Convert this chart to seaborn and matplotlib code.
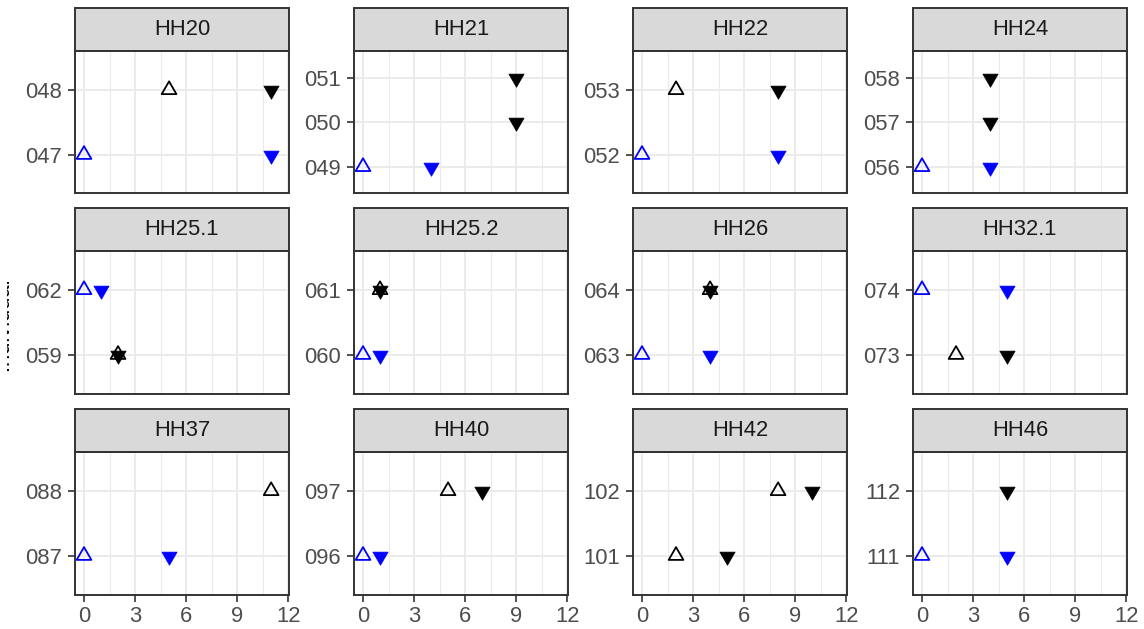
import numpy as np
import pandas as pd
import matplotlib
matplotlib.use("Agg")
import matplotlib.pyplot as plt
import seaborn as sns
from matplotlib.patches import Rectangle
from matplotlib.path import Path
from matplotlib.transforms import Bbox, TransformedBbox

# ---------------- data ----------------
households = ["HH20", "HH21", "HH22", "HH24", "HH25.1", "HH25.2",
              "HH26", "HH32.1", "HH37", "HH40", "HH42", "HH46"]

pt_household = (["HH20"] * 4 + ["HH21"] * 4 + ["HH22"] * 4 + ["HH24"] * 4 +
                ["HH25.1"] * 4 + ["HH25.2"] * 4 + ["HH26"] * 4 + ["HH32.1"] * 4 +
                ["HH37"] * 3 + ["HH40"] * 4 + ["HH42"] * 4 + ["HH46"] * 3)
pt_individual = ["048", "048", "047", "047",
                 "051", "050", "049", "049",
                 "053", "053", "052", "052",
                 "058", "057", "056", "056",
                 "062", "062", "059", "059",
                 "061", "061", "060", "060",
                 "064", "064", "063", "063",
                 "074", "074", "073", "073",
                 "088", "087", "087",
                 "097", "097", "096", "096",
                 "102", "102", "101", "101",
                 "112", "111", "111"]
pt_time = [5, 11, 0, 11,
           9, 9, 0, 4,
           2, 8, 0, 8,
           4, 4, 0, 4,
           0, 1, 2, 2,
           1, 1, 0, 1,
           4, 4, 0, 4,
           0, 5, 2, 5,
           11, 0, 5,
           5, 7, 0, 1,
           8, 10, 2, 5,
           5, 0, 5]
pt_event = ["start", "end", "start", "end",
            "end", "end", "start", "end",
            "start", "end", "start", "end",
            "end", "end", "start", "end",
            "start", "end", "start", "end",
            "start", "end", "start", "end",
            "start", "end", "start", "end",
            "start", "end", "start", "end",
            "start", "start", "end",
            "start", "end", "start", "end",
            "start", "end", "start", "end",
            "end", "start", "end"]
pt_group = ["contact", "contact", "index", "index",
            "contact", "contact", "index", "index",
            "contact", "contact", "index", "index",
            "contact", "contact", "index", "index",
            "index", "index", "contact", "contact",
            "contact", "contact", "index", "index",
            "contact", "contact", "index", "index",
            "index", "index", "contact", "contact",
            "contact", "index", "index",
            "contact", "contact", "index", "index",
            "contact", "contact", "contact", "contact",
            "contact", "index", "index"]

x_ticks = [0, 3, 6, 9, 12]

df = pd.DataFrame({"household": pt_household, "individual": pt_individual,
                   "time": pt_time, "event": pt_event, "group": pt_group})

group_colors = {"contact": "black", "index": "blue"}

# centroid-centred triangles (so that an up + down overlap forms a hexagram)
TRI_UP = Path([(0, 1), (-0.866, -0.5), (0.866, -0.5), (0, 1)],
              [Path.MOVETO, Path.LINETO, Path.LINETO, Path.CLOSEPOLY])
TRI_DOWN = Path([(0, -1), (-0.866, 0.5), (0.866, 0.5), (0, -1)],
                [Path.MOVETO, Path.LINETO, Path.LINETO, Path.CLOSEPOLY])

# ---------------- style ----------------
sns.set_theme(style="white")
plt.rcParams["font.family"] = ["Liberation Sans", "DejaVu Sans"]

W, H = 1144, 629
TXT = "#4D4D4D"
BORDER = "#333333"
GRID = "#EBEBEB"
FS = 15.8

g = sns.FacetGrid(df, col="household", col_order=households, col_wrap=4,
                  sharex=True, sharey=False, height=2.0, aspect=1.5)
g.figure.set_size_inches(W / 100, H / 100)


def draw(data, color=None, **kws):
    ax = plt.gca()
    levels = sorted(data["individual"].unique())
    d = data.copy()
    d["ypos"] = d["individual"].map({lv: i for i, lv in enumerate(levels)})
    for grp, col in group_colors.items():
        s = d[(d["group"] == grp) & (d["event"] == "start")]
        if len(s):
            sns.scatterplot(data=s, x="time", y="ypos", ax=ax, marker=TRI_UP,
                            s=150, facecolor="none", edgecolor=col,
                            linewidth=1.3, zorder=3, legend=False)
        e = d[(d["group"] == grp) & (d["event"] == "end")]
        if len(e):
            sns.scatterplot(data=e, x="time", y="ypos", ax=ax, marker=TRI_DOWN,
                            s=160, color=col, edgecolor=col,
                            linewidth=0.5, zorder=3, legend=False)
    ax.set_yticks(range(len(levels)))
    ax.set_yticklabels(levels)
    ax.set_ylim(-0.6, len(levels) - 1 + 0.6)


g.map_dataframe(draw)

col_left = [75, 354, 633, 913]
row_top = [51, 251, 452]
pw, ph = 214, 142.5
strip_h = 43

for i, (ax, hh) in enumerate(zip(g.axes.flat, households)):
    r, c = divmod(i, 4)
    left = col_left[c] / W
    bottom = 1 - (row_top[r] + ph) / H
    ax.set_position([left, bottom, pw / W, ph / H])
    ax.set_title("")
    ax.set_xlabel("")
    ax.set_ylabel("")
    ax.set_xlim(-0.53, 12.05)
    ax.set_xticks(x_ticks)
    ax.set_xticks([1.5, 4.5, 7.5, 10.5], minor=True)
    ax.grid(True, which="major", color=GRID, linewidth=1.4, zorder=0)
    ax.grid(True, which="minor", color=GRID, linewidth=0.8, zorder=0)
    ax.set_axisbelow(True)
    for sp in ax.spines.values():
        sp.set_visible(True)
        sp.set_color(BORDER)
        sp.set_linewidth(1.4)
        sp.set_zorder(5)
    ax.tick_params(axis="both", which="major", length=5, width=1.2,
                   color=BORDER, labelcolor=TXT, labelsize=FS, pad=4.2,
                   left=True, bottom=(r == 2), labelbottom=(r == 2))
    ax.tick_params(axis="x", which="major", pad=3)
    ax.tick_params(axis="both", which="minor", length=0)
    strip = Rectangle((0, 1), 1, strip_h / ph, transform=ax.transAxes,
                      clip_on=False, facecolor="#D9D9D9", edgecolor=BORDER,
                      linewidth=1.4, zorder=4)
    ax.add_patch(strip)
    ax.text(0.5, 1 + strip_h / ph / 2, hh, transform=ax.transAxes,
            ha="center", va="center", fontsize=FS, color="#1A1A1A", zorder=6)

# y-axis title, clipped at the left edge as in the reference
t = g.figure.text(13.5 / W, 1 - 324 / H, "Individual", rotation=90,
                  ha="right", va="center", fontsize=FS, color="black")
clip = TransformedBbox(Bbox([[7 / W, 0], [13 / W, 1]]), g.figure.transFigure)
t.set_clip_box(clip)
t.set_clip_on(True)

g.figure.savefig("out.png", dpi=100)
